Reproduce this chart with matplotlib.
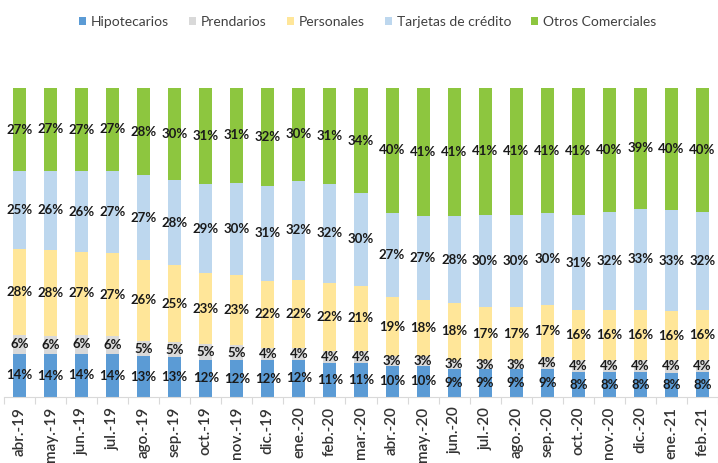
import numpy as np
import matplotlib
matplotlib.use("Agg")
import matplotlib.pyplot as plt
from matplotlib.ticker import FixedLocator

months = ["abr.-19", "may.-19", "jun.-19", "jul.-19", "ago.-19", "sep.-19", "oct.-19",
          "nov.-19", "dic.-19", "ene.-20", "feb.-20", "mar.-20", "abr.-20", "may.-20",
          "jun.-20", "jul.-20", "ago.-20", "sep.-20", "oct.-20", "nov.-20", "dic.-20",
          "ene.-21", "feb.-21"]

hipotecarios = [14, 14, 14, 14, 13, 13, 12, 12, 12, 12, 11, 11, 10, 10, 9, 9, 9, 9, 8, 8, 8, 8, 8]
prendarios = [6, 6, 6, 6, 5, 5, 5, 5, 4, 4, 4, 4, 3, 3, 3, 3, 3, 4, 4, 4, 4, 4, 4]
personales = [28, 28, 27, 27, 26, 25, 23, 23, 22, 22, 22, 21, 19, 18, 18, 17, 17, 17, 16, 16, 16, 16, 16]
tarjetas = [25, 26, 26, 27, 27, 28, 29, 30, 31, 32, 32, 30, 27, 27, 28, 30, 30, 30, 31, 32, 33, 33, 32]
otros = [27, 27, 27, 27, 28, 30, 31, 31, 32, 30, 31, 34, 40, 41, 41, 41, 41, 41, 41, 40, 39, 40, 40]

series_names = ["Hipotecarios", "Prendarios", "Personales", "Tarjetas de crédito", "Otros Comerciales"]
colors = ["#5B9BD5", "#D9D9D9", "#FFE699", "#BDD7EE", "#8DC63F"]

data = np.array([hipotecarios, prendarios, personales, tarjetas, otros], dtype=float)
shares = data / data.sum(axis=0)

fig = plt.figure(figsize=(7.18, 4.63), dpi=100)
ax = fig.add_axes([4 / 718, 66 / 463, 714 / 718, 309 / 463])

x = np.arange(len(months))
bottom = np.zeros(len(months))
handles = []
for name, col, vals, sh in zip(series_names, colors, data, shares):
    b = ax.bar(x, sh, 0.42, bottom=bottom, color=col, label=name, linewidth=0)
    handles.append(b)
    for xi, bi, hi, v in zip(x, bottom, sh, vals):
        ax.text(xi, bi + hi / 2, f"{int(v)}%", ha="center", va="center",
                fontsize=9.5, fontweight="bold", family="Lato", color="#1a1a1a")
    bottom += sh

ax.set_xlim(-0.5, len(months) - 0.5)
ax.set_ylim(0, 1)
for s in ["top", "right", "left"]:
    ax.spines[s].set_visible(False)
ax.spines["bottom"].set_color("#D9D9D9")
ax.set_yticks([])
ax.set_xticks(x)
ax.set_xticklabels(months, rotation=90, fontsize=11, family="Lato", color="#333333",
                   fontweight="semibold")
ax.tick_params(axis="x", which="major", length=0, pad=7)
ax.xaxis.set_minor_locator(FixedLocator(np.arange(-0.5, len(months), 1.0)))
ax.tick_params(axis="x", which="minor", length=5, color="#D9D9D9", width=0.8)

fig.legend(handles=handles, labels=series_names, loc="center", ncol=5,
           bbox_to_anchor=(0.512, 1 - 22 / 463), frameon=False,
           handlelength=0.5, handleheight=0.5, handletextpad=0.35, columnspacing=1.45,
           prop={"family": "Lato", "size": 10}, labelcolor="#404040")

fig.savefig("out.png", dpi=100)
